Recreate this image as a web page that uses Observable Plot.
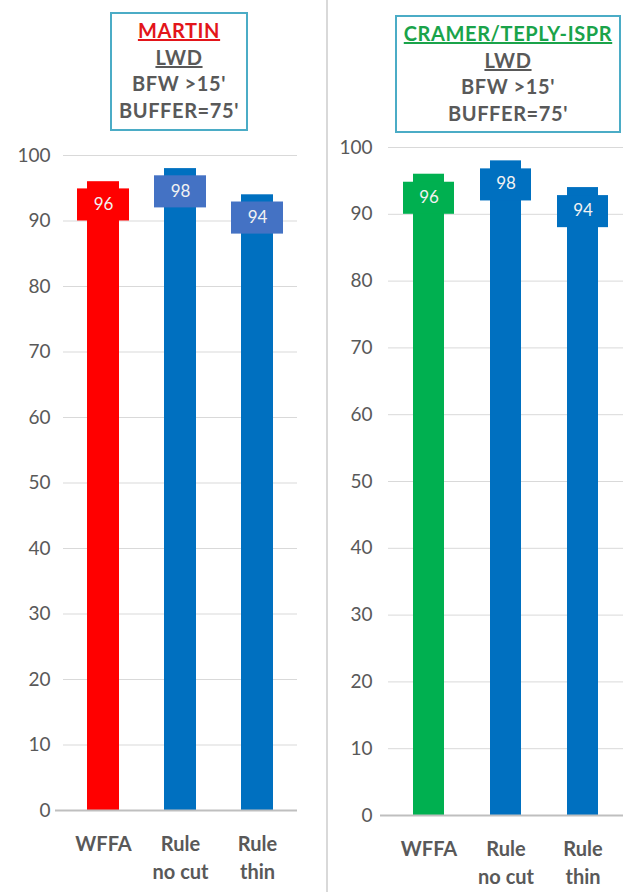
<!DOCTYPE html>
<html>
<head>
<meta charset="utf-8">
<script src="https://cdn.jsdelivr.net/npm/d3@7"></script>
<script src="https://cdn.jsdelivr.net/npm/@observablehq/plot@0.6"></script>
<style>
  body { margin: 0; background: #fff; }
  #wrap { position: relative; width: 623px; height: 892px; overflow: hidden; font-family: Lato, "Open Sans", sans-serif; }
  .panel { position: absolute; top: 0; }
  .title { position: absolute; border: 2px solid #4bacc6; box-sizing: border-box; text-align: center; color: #595959;
           font-weight: 700; font-size: 20px; letter-spacing: 0.6px; line-height: 26.5px; padding-top: 3px; background: #fff; white-space: nowrap; }
  .u { text-decoration: underline; }
  #divider { position: absolute; left: 326px; top: 0; width: 2px; height: 892px; background: #d9d9d9; }
</style>
</head>
<body>
<div id="wrap">
  <div id="left" class="panel" style="left:0"></div>
  <div id="right" class="panel" style="left:327px"></div>
  <div id="divider"></div>
  <div class="title" style="left:110px; top:12px; width:138px; height:119px;">
    <div class="u" style="color:#e3151a">MARTIN</div>
    <div class="u">LWD</div>
    <div>BFW &gt;15'</div>
    <div>BUFFER=75'</div>
  </div>
  <div class="title" style="left:395px; top:15px; width:226px; height:118px;">
    <div class="u" style="color:#1aa34a">CRAMER/TEPLY-ISPR</div>
    <div class="u">LWD</div>
    <div>BFW &gt;15'</div>
    <div>BUFFER=75'</div>
  </div>
</div>
<script>
// Categories and values for the two LWD comparisons
const categories = ["WFFA", "Rule no cut", "Rule thin"];
const tickLabels = ["WFFA", "Rule\nno cut", "Rule\nthin"];
const martinValues = [96, 98, 94];
const cramerValues = [96, 98, 94];
const yTicks = [0, 10, 20, 30, 40, 50, 60, 70, 80, 90, 100];

const martinColors = ["#ff0000", "#0070c0", "#0070c0"];
const martinLabelFills = ["#ff0000", "#4472c4", "#4472c4"];
const cramerColors = ["#00b050", "#0070c0", "#0070c0"];
const cramerLabelFills = ["#00b050", "#0070c0", "#0070c0"];

function panel(opts) {
  const rows = categories.map((c, i) => ({
    cat: c, value: opts.values[i], color: opts.colors[i], labelFill: opts.labelFills[i]
  }));
  return Plot.plot({
    width: opts.width,
    height: 892,
    marginTop: opts.marginTop,
    marginBottom: opts.marginBottom,
    marginLeft: opts.marginLeft,
    marginRight: opts.marginRight,
    style: { fontFamily: "Lato, 'Open Sans', sans-serif", background: "transparent", overflow: "visible" },
    x: { domain: categories, paddingInner: opts.paddingInner, paddingOuter: opts.paddingOuter, axis: null },
    y: { domain: [0, 100], axis: null },
    color: { type: "identity" },
    marks: [
      Plot.ruleY(yTicks.filter(t => t > 0), { stroke: "#d9d9d9", strokeWidth: 1 }),
      Plot.axisY(yTicks, { tickSize: 0, tickPadding: opts.tickPadding, fontSize: 19, fill: "#595959", label: null,
                           style: { letterSpacing: "1px" } }),
      Plot.barY(rows, { x: "cat", y: "value", fill: "color" }),
      Plot.ruleY([0], { stroke: "#bfbfbf", strokeWidth: 2, insetLeft: -8 }),
      Plot.barY(rows, { x: "cat", y1: d => d.value - opts.boxLow, y2: d => d.value - opts.boxHigh,
                        fill: "labelFill", insetLeft: -10, insetRight: -10 }),
      Plot.text(rows, { x: "cat", y: "value", text: d => String(d.value), dy: 23, fill: "#f2f2f2", fontSize: 17 }),
      Plot.axisX({ tickSize: 0, tickPadding: 20, tickFormat: c => tickLabels[categories.indexOf(c)],
                   fontSize: 20, fontWeight: 700, fill: "#595959", label: null, lineHeight: 1.42 })
    ]
  });
}

document.getElementById("left").append(panel({
  values: martinValues, colors: martinColors, labelFills: martinLabelFills,
  width: 320, marginTop: 155, marginBottom: 82, marginLeft: 63, marginRight: 23,
  paddingInner: 0.58, paddingOuter: 0.3, tickPadding: 13, boxHigh: 1.1, boxLow: 6.0
}));

document.getElementById("right").append(panel({
  values: cramerValues, colors: cramerColors, labelFills: cramerLabelFills,
  width: 296, marginTop: 147, marginBottom: 77, marginLeft: 61, marginRight: 0,
  paddingInner: 0.6, paddingOuter: 0.31, tickPadding: 16, boxHigh: 1.2, boxLow: 6.0
}));
</script>
</body>
</html>
